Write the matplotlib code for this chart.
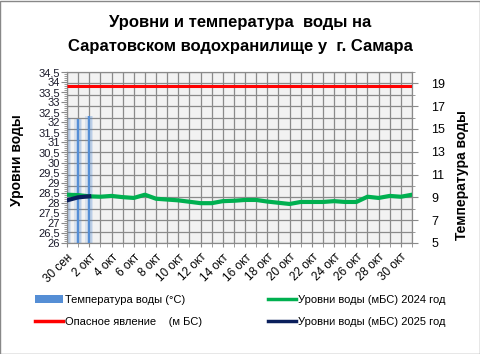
import matplotlib
matplotlib.use('Agg')
import matplotlib.pyplot as plt
from matplotlib.patches import Patch, Rectangle
from matplotlib.lines import Line2D
from matplotlib.ticker import MultipleLocator, FuncFormatter

plt.rcParams['font.family'] = ['Liberation Sans', 'DejaVu Sans']

# ---- data ----
dates = ['30 сен', '1 окт', '2 окт', '3 окт', '4 окт', '5 окт', '6 окт', '7 окт',
         '8 окт', '9 окт', '10 окт', '11 окт', '12 окт', '13 окт', '14 окт', '15 окт',
         '16 окт', '17 окт', '18 окт', '19 окт', '20 окт', '21 окт', '22 окт', '23 окт',
         '24 окт', '25 окт', '26 окт', '27 окт', '28 окт', '29 окт', '30 окт', '31 окт']
level_2024 = [28.40, 28.38, 28.32, 28.30, 28.34, 28.28, 28.24, 28.40,
              28.20, 28.16, 28.12, 28.05, 27.98, 27.98, 28.08, 28.10,
              28.14, 28.14, 28.06, 28.00, 27.94, 28.04, 28.04, 28.04,
              28.08, 28.04, 28.04, 28.30, 28.24, 28.34, 28.30, 28.40]
level_2025 = [28.12, 28.27, 28.32]
temperature = [16.0, 15.9, 16.1]
danger_level = [33.8] * len(dates)

x_all = list(range(len(dates)))
x_2025 = x_all[:len(level_2025)]
x_temp = x_all[:len(temperature)]

# ---- figure ----
W, H = 481, 354
fig = plt.figure(figsize=(W / 100, H / 100), dpi=100)
fig.patch.set_facecolor('white')

L, R, T, B = 67, 412, 72, 243
ax_t = fig.add_axes([L / W, 1 - B / H, (R - L) / W, (B - T) / H])
ax_l = ax_t.twinx()

# temperature axis (right) on the host axes
ax_t.set_facecolor('#f2f2f2')
ax_t.yaxis.tick_right()
ax_t.yaxis.set_label_position('right')
ax_l.yaxis.tick_left()
ax_l.yaxis.set_label_position('left')

grid_c = '#8a8a8a'
# bars with soft glow
ax_t.bar(x_temp, temperature, width=0.75, color='#558ED5', alpha=0.16, zorder=2)
ax_t.bar(x_temp, temperature, width=0.45, color='#558ED5', alpha=0.22, zorder=2)
ax_t.bar(x_temp, temperature, width=0.22, color='#558ED5', zorder=3)

ax_t.set_ylim(5, 20)
ax_t.set_yticks(list(range(5, 20, 2)))
ax_t.yaxis.set_minor_locator(MultipleLocator(1))
ax_t.set_xlim(0, 31)
ax_t.set_xticks(x_all[::2])
ax_t.set_xticklabels(dates[::2], rotation=45, ha='right', rotation_mode='anchor',
                     fontsize=8.5)
ax_t.xaxis.set_minor_locator(MultipleLocator(1))
ax_t.grid(which='both', axis='both', color=grid_c, lw=0.9, zorder=0)
ax_t.set_axisbelow(True)
ax_t.tick_params(axis='y', which='major', labelsize=9, length=4, color=grid_c, pad=10)
ax_t.tick_params(axis='y', which='minor', length=2, color=grid_c)
ax_t.tick_params(axis='x', which='both', length=3, color=grid_c, pad=3)

# level axis (left)
ax_l.plot(x_all, danger_level, color='#FF0000', lw=2.2, solid_capstyle='butt', zorder=4)
ax_l.plot(x_all, level_2024, color='#00B050', lw=3, zorder=5)
ax_l.plot(x_2025, level_2025, color='#0A1F5C', lw=3, zorder=6)
ax_l.set_ylim(26, 34.5)
ax_l.yaxis.set_major_locator(MultipleLocator(0.5))
ax_l.yaxis.set_minor_locator(MultipleLocator(0.1))
ax_l.yaxis.set_major_formatter(FuncFormatter(lambda v, p: f'{v:g}'.replace('.', ',')))
ax_l.tick_params(axis='y', which='major', labelsize=8, length=4, color=grid_c,
                 labelcolor='#1a1a2a', pad=1)
ax_l.tick_params(axis='y', which='minor', length=2, color=grid_c)

for a in (ax_t, ax_l):
    for s in a.spines.values():
        s.set_color(grid_c)
        s.set_linewidth(0.8)

# titles & labels
fig.text(0.5, 1 - 23 / H, 'Уровни и температура  воды на', ha='center', va='center',
         fontsize=12, fontweight='bold')
fig.text(0.5, 1 - 47 / H, 'Саратовском водохранилище у  г. Самара', ha='center',
         va='center', fontsize=12, fontweight='bold')
fig.text(17 / W, 1 - 160 / H, 'Уровни воды', rotation=90, ha='center', va='center',
         fontsize=10, fontweight='bold')
fig.text(462 / W, 1 - 175 / H, 'Температура воды', rotation=90, ha='center',
         va='center', fontsize=10, fontweight='bold')

# legends
h_temp = Patch(facecolor='#558ED5', edgecolor='none')
h_red = Line2D([], [], color='#FF0000', lw=2.5)
h_green = Line2D([], [], color='#00B050', lw=2.5)
h_navy = Line2D([], [], color='#0A1F5C', lw=2.5)
leg_kw = dict(frameon=False, fontsize=8, handlelength=2.5, handletextpad=0.2,
              borderpad=0, borderaxespad=0, labelspacing=1.1, loc='upper left')
fig.legend([h_temp, h_red], ['Температура воды (°С)', 'Опасное явление    (м БС)'],
           bbox_to_anchor=(35 / W, 1 - 295 / H), **leg_kw)
fig.legend([h_green, h_navy], ['Уровни воды (мБС) 2024 год', 'Уровни воды (мБС) 2025 год'],
           bbox_to_anchor=(268 / W, 1 - 295 / H), **leg_kw)

fig.add_artist(Rectangle((0.001, 0.001), 0.997, 0.996, transform=fig.transFigure,
                         fill=False, edgecolor='#888888', lw=1))

fig.savefig('out.png', dpi=100)
